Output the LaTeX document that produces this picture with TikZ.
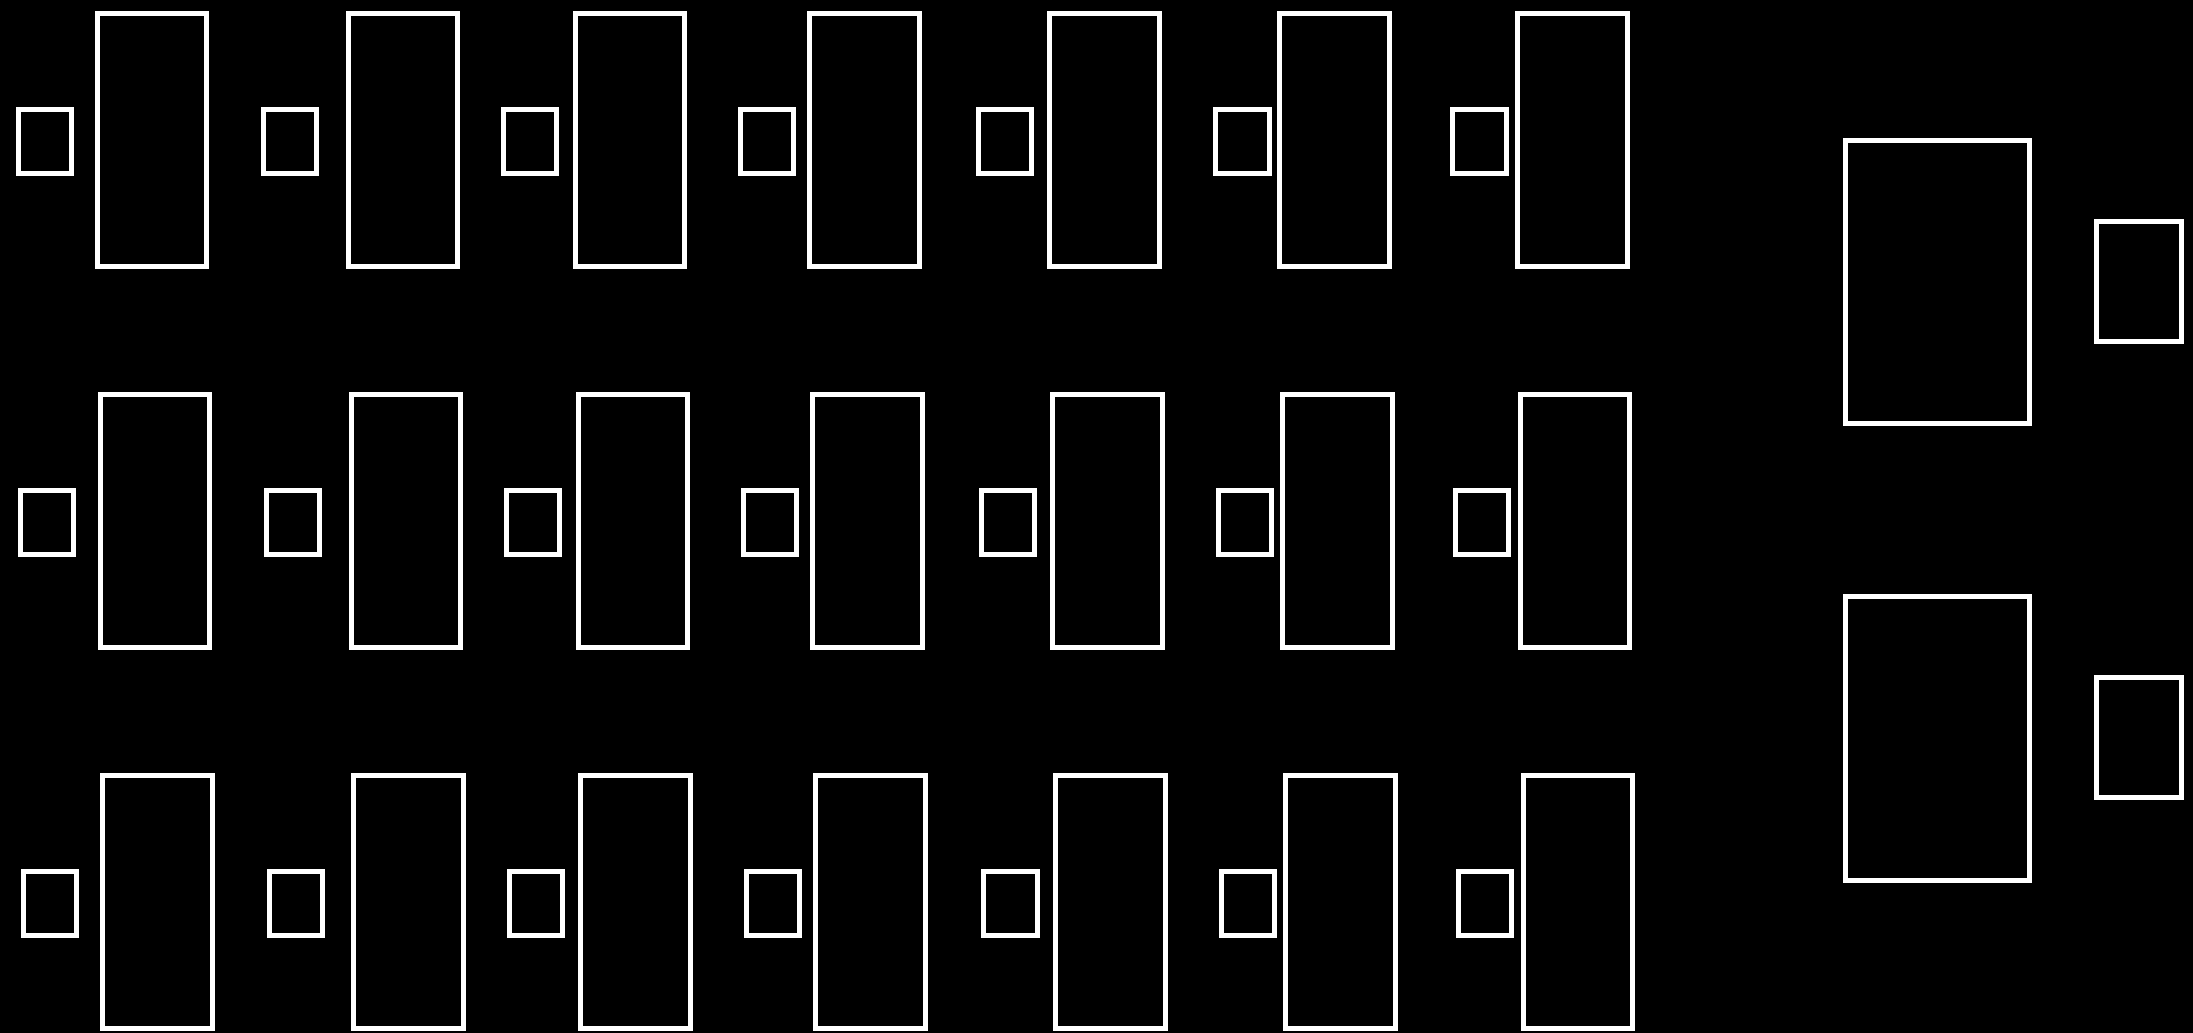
\documentclass[tikz,border=0pt]{standalone}
\begin{document}
\begin{tikzpicture}[x=0.01cm,y=-0.01cm,
  box/.style={rectangle, draw=white, line width=0.05cm, inner sep=0pt, outer sep=0pt},
  smallbox/.style={box, minimum width=0.53cm, minimum height=0.64cm},
  bigbox/.style={box, minimum width=1.095cm, minimum height=2.53cm},
  rbigbox/.style={box, minimum width=1.843cm, minimum height=2.83cm},
  rsmallbox/.style={box, minimum width=0.853cm, minimum height=1.20cm}]
\fill[black] (0,0) rectangle (2193,1033);
\useasboundingbox (0,0) rectangle (2193,1033);
\foreach \r in {0,1,2} {
  \foreach \xs/\xb [count=\i] in {44.65/152, 290/403, 530/630, 767.3/864.7, 1004.9/1104.7, 1242.5/1334.7, 1479.5/1572.3} {
    \node[smallbox] (s\r-\i) at ({\xs+2.8*\r},{141.2+381.3*\r}) {};
    \node[bigbox] (b\r-\i) at ({\xb+2.8*\r},{139.7+381.3*\r}) {};
  }
}
\node[rbigbox] (rb1) at (1937.4,282.3) {};
\node[rsmallbox] (rs1) at (2138.9,281.2) {};
\node[rbigbox] (rb2) at (1937.4,738.5) {};
\node[rsmallbox] (rs2) at (2138.9,737.2) {};
\end{tikzpicture}
\end{document}
